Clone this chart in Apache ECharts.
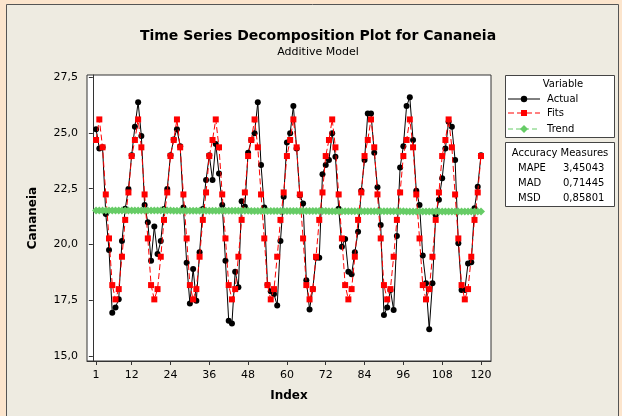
<!DOCTYPE html>
<html>
<head>
<meta charset="utf-8">
<script src="https://cdn.jsdelivr.net/npm/echarts@6/dist/echarts.min.js"></script>
<style>
html,body{margin:0;padding:0;background:#FCE5CD;}
#chart{width:622px;height:416px;}
</style>
</head>
<body>
<div id="chart"></div>
<script>
// ---- data ----
const xTicks = [1, 12, 24, 36, 48, 60, 72, 84, 96, 108, 120];
const yTicks = [15, 17.5, 20, 22.5, 25, 27.5];

const actual = [
  25.16, 24.30, 24.35, 21.36, 19.75, 16.94, 17.18, 17.55, 20.15, 21.60, 22.48, 24.00,
  25.27, 26.37, 24.86, 21.77, 20.99, 19.27, 20.80, 19.57, 20.15, 21.59, 22.48, 24.00,
  24.70, 25.16, 24.40, 21.66, 19.18, 17.36, 18.90, 17.48, 19.65, 21.59, 22.89, 24.00,
  22.89, 24.50, 23.18, 21.77, 19.27, 16.58, 16.46, 18.78, 18.08, 21.94, 21.69, 24.11,
  24.68, 24.98, 26.37, 23.56, 21.66, 18.20, 17.90, 17.78, 17.27, 20.15, 22.14, 24.57,
  24.98, 26.20, 24.30, 22.20, 21.84, 18.40, 17.09, 18.00, 19.40, 19.40, 23.15, 23.56,
  23.78, 24.98, 23.93, 21.60, 19.90, 20.24, 18.78, 18.67, 19.65, 20.57, 22.41, 23.78,
  25.87, 25.87, 24.11, 22.56, 20.87, 16.84, 17.18, 17.96, 17.06, 20.38, 23.45, 24.40,
  26.20, 26.59, 24.68, 22.40, 21.77, 19.50, 18.26, 16.20, 18.26, 21.32, 22.00, 22.96,
  24.30, 25.50, 25.27, 23.78, 20.05, 17.96, 17.96, 19.15, 19.20, 21.62, 22.59, 24.00
];

const fits = [
  24.68, 25.60, 24.35, 22.24, 20.27, 18.18, 17.54, 18.00, 19.45, 21.10, 22.33, 23.96,
  24.68, 25.60, 24.35, 22.24, 20.27, 18.18, 17.54, 18.00, 19.45, 21.10, 22.33, 23.96,
  24.68, 25.60, 24.35, 22.24, 20.27, 18.18, 17.54, 18.00, 19.45, 21.10, 22.33, 23.96,
  24.68, 25.60, 24.35, 22.24, 20.27, 18.18, 17.54, 18.00, 19.45, 21.10, 22.33, 23.96,
  24.68, 25.60, 24.35, 22.24, 20.27, 18.18, 17.54, 18.00, 19.45, 21.10, 22.33, 23.96,
  24.68, 25.60, 24.35, 22.24, 20.27, 18.18, 17.54, 18.00, 19.45, 21.10, 22.33, 23.96,
  24.68, 25.60, 24.35, 22.24, 20.27, 18.18, 17.54, 18.00, 19.45, 21.10, 22.33, 23.96,
  24.68, 25.60, 24.35, 22.24, 20.27, 18.18, 17.54, 18.00, 19.45, 21.10, 22.33, 23.96,
  24.68, 25.60, 24.35, 22.24, 20.27, 18.18, 17.54, 18.00, 19.45, 21.10, 22.33, 23.96,
  24.68, 25.60, 24.35, 22.24, 20.27, 18.18, 17.54, 18.00, 19.45, 21.10, 22.33, 23.96
];

const trend = [
  21.52, 21.52, 21.52, 21.52, 21.52, 21.52, 21.52, 21.52, 21.52, 21.52, 21.52, 21.52,
  21.52, 21.52, 21.52, 21.52, 21.52, 21.52, 21.52, 21.52, 21.52, 21.52, 21.52, 21.52,
  21.51, 21.51, 21.51, 21.51, 21.51, 21.51, 21.51, 21.51, 21.51, 21.51, 21.51, 21.51,
  21.51, 21.51, 21.51, 21.51, 21.51, 21.51, 21.51, 21.51, 21.51, 21.51, 21.51, 21.51,
  21.50, 21.50, 21.50, 21.50, 21.50, 21.50, 21.50, 21.50, 21.50, 21.50, 21.50, 21.50,
  21.50, 21.50, 21.50, 21.50, 21.50, 21.50, 21.50, 21.50, 21.50, 21.50, 21.50, 21.50,
  21.49, 21.49, 21.49, 21.49, 21.49, 21.49, 21.49, 21.49, 21.49, 21.49, 21.49, 21.49,
  21.49, 21.49, 21.49, 21.49, 21.49, 21.49, 21.49, 21.49, 21.49, 21.49, 21.49, 21.49,
  21.48, 21.48, 21.48, 21.48, 21.48, 21.48, 21.48, 21.48, 21.48, 21.48, 21.48, 21.48,
  21.48, 21.48, 21.48, 21.48, 21.48, 21.48, 21.48, 21.48, 21.48, 21.48, 21.48, 21.48
];

const measureNames = ['MAPE', 'MAD', 'MSD'];
const measureValues = ['3,45043', '0,71445', '0,85801'];

// ---- chart ----
const FONT = 'DejaVu Sans';
const pairs = arr => arr.map((v, i) => [i + 1, v]);
const fmt = v => v.toFixed(1).replace('.', ',');

const chart = echarts.init(document.getElementById('chart'), null, {renderer: 'canvas'});

const LF = '10px ' + FONT;
const graphics = [
  {type: 'rect', z: -10, silent: true, shape: {x: 6.5, y: 4.5, width: 612, height: 420},
   style: {fill: '#EEEBE1', stroke: '#555', lineWidth: 1}},
  {type: 'text', style: {text: 'Time Series Decomposition Plot for Cananeia', x: 318, y: 36,
    align: 'center', verticalAlign: 'middle', font: 'bold 14px ' + FONT, fill: '#000'}},
  {type: 'text', style: {text: 'Additive Model', x: 318, y: 52,
    align: 'center', verticalAlign: 'middle', font: '11px ' + FONT, fill: '#000'}},
  // legend box 1
  {type: 'rect', shape: {x: 505.5, y: 75.5, width: 109, height: 62},
   style: {fill: '#fff', stroke: '#444', lineWidth: 1}},
  {type: 'text', style: {text: 'Variable', x: 563, y: 84, align: 'center', verticalAlign: 'middle',
    font: LF, fill: '#000'}},
  {type: 'line', shape: {x1: 508, y1: 99, x2: 540, y2: 99}, style: {stroke: '#000', lineWidth: 1}},
  {type: 'circle', shape: {cx: 524, cy: 99, r: 3.2}, style: {fill: '#000'}},
  {type: 'text', style: {text: 'Actual', x: 547, y: 99, verticalAlign: 'middle', font: LF, fill: '#000'}},
  {type: 'line', shape: {x1: 508, y1: 113, x2: 540, y2: 113}, style: {stroke: '#FF0000', lineWidth: 1, lineDash: [6, 3]}},
  {type: 'rect', shape: {x: 521, y: 110, width: 6, height: 6}, style: {fill: '#FF0000'}},
  {type: 'text', style: {text: 'Fits', x: 547, y: 113, verticalAlign: 'middle', font: LF, fill: '#000'}},
  {type: 'line', shape: {x1: 508, y1: 129, x2: 540, y2: 129}, style: {stroke: '#66CC66', lineWidth: 1, lineDash: [5, 3]}},
  {type: 'polygon', shape: {points: [[524, 125], [528, 129], [524, 133], [520, 129]]}, style: {fill: '#66CC66'}},
  {type: 'text', style: {text: 'Trend', x: 547, y: 129, verticalAlign: 'middle', font: LF, fill: '#000'}},
  // legend box 2
  {type: 'rect', shape: {x: 505.5, y: 142.5, width: 109, height: 64},
   style: {fill: '#fff', stroke: '#444', lineWidth: 1}},
  {type: 'text', style: {text: 'Accuracy Measures', x: 560, y: 153, align: 'center', verticalAlign: 'middle',
    font: LF, fill: '#000'}}
];
measureNames.forEach((n, i) => {
  graphics.push({type: 'text', style: {text: n, x: 518, y: 168 + i * 15, verticalAlign: 'middle', font: LF, fill: '#000'}});
  graphics.push({type: 'text', style: {text: measureValues[i], x: 563, y: 168 + i * 15, verticalAlign: 'middle', font: LF, fill: '#000'}});
});

chart.setOption({
  animation: false,
  backgroundColor: '#FCE5CD',
  textStyle: {fontFamily: FONT},
  grid: {left: 87, top: 75, width: 404, height: 286, show: true, backgroundColor: '#fff',
    borderColor: '#333', borderWidth: 1, containLabel: false},
  xAxis: {
    type: 'value', min: -1.81, max: 123.1,
    name: 'Index', nameLocation: 'middle', nameGap: 29,
    nameTextStyle: {fontWeight: 'bold', fontSize: 12, color: '#000', fontFamily: FONT},
    axisLine: {show: true, lineStyle: {color: '#333'}},
    axisTick: {show: true, length: 4, customValues: xTicks, lineStyle: {color: '#333'}},
    axisLabel: {customValues: xTicks, fontSize: 11, color: '#000', margin: 9, fontFamily: FONT},
    splitLine: {show: false}
  },
  yAxis: {
    type: 'value', min: 14.78, max: 27.59,
    name: 'Cananeia', nameLocation: 'middle', nameGap: 48, nameRotate: 90,
    nameTextStyle: {fontWeight: 'bold', fontSize: 12, color: '#000', fontFamily: FONT},
    axisLine: {show: true, lineStyle: {color: '#333'}},
    axisTick: {show: true, length: 4, customValues: yTicks, lineStyle: {color: '#333'}},
    axisLabel: {customValues: yTicks, fontSize: 11, color: '#000', margin: 9, formatter: fmt, fontFamily: FONT},
    splitLine: {show: false}
  },
  series: [
    {name: 'Actual', type: 'line', data: pairs(actual), z: 2,
     symbol: 'circle', symbolSize: 6, showAllSymbol: true,
     lineStyle: {color: '#000', width: 1}, itemStyle: {color: '#000'}},
    {name: 'Fits', type: 'line', data: pairs(fits), z: 3,
     symbol: 'rect', symbolSize: 6, showAllSymbol: true,
     lineStyle: {color: '#FF0000', width: 1, type: [6, 3]}, itemStyle: {color: '#FF0000'}},
    {name: 'Trend', type: 'line', data: pairs(trend), z: 4,
     symbol: 'diamond', symbolSize: 8, showAllSymbol: true,
     lineStyle: {color: '#66CC66', width: 1, type: [5, 3]}, itemStyle: {color: '#66CC66'}}
  ],
  graphic: graphics
});
</script>
</body>
</html>
